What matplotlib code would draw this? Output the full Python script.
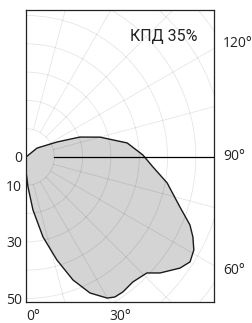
#!/usr/bin/env python3
# -*- coding: utf-8 -*-
"""Light distribution curve (polar, clipped to a box), KPD 35%."""

import numpy as np
import matplotlib
matplotlib.use("Agg")
import matplotlib.pyplot as plt
from matplotlib.patches import Circle, Polygon

# ---- data: angle from nadir (deg), intensity ----
ANGLES = [0, 3.8, 7.5, 12, 16.7, 20.9, 25.2, 29.9, 32.4, 35.7, 40.6, 46.2, 49.1,
          54.2, 57.4, 61, 64.4, 67.5, 72, 79.6, 85.5, 91, 97.9, 105, 110.3,
          115.8, 129, 140]
INTENS = [5, 10.6, 18.9, 28.9, 38.0, 46.5, 53.1, 57.5, 58.6, 58.7, 58.1, 59.2, 62.6,
          67.1, 68.8, 67.8, 65.4, 62.7, 57.2, 50.7, 45.0, 41.3, 36.1, 27.1, 20.3,
          12.2, 5.0, 0]

R_TICKS = [0, 10, 30, 50]
R_GRID = [10, 20, 30, 40, 50, 60, 70, 80, 90]
A_GRID = list(range(0, 181, 15))
A_LABELS = {0: "bottom", 30: "bottom", 60: "right", 90: "right", 120: "right", 150: "top"}
TITLE = "КПД 35%"

W, H = 253, 323
PX = 2.83  # pixels per intensity unit
BOX = (26, 10, 214, 302)  # left, top, right, bottom in pixels
ORIGIN_Y = 157

FONT = ["Open Sans", "DejaVu Sans"]


def polar_xy(a_deg, r):
    a = np.radians(np.asarray(a_deg, dtype=float))
    r = np.asarray(r, dtype=float)
    return r * np.sin(a), -r * np.cos(a)


def main():
    fig = plt.figure(figsize=(W / 100, H / 100), dpi=100)
    l, t, rgt, b = BOX
    ax = fig.add_axes([l / W, 1 - b / H, (rgt - l) / W, (b - t) / H])
    xmax = (rgt - l) / PX
    ymax = (ORIGIN_Y - t) / PX
    ymin = -(b - ORIGIN_Y) / PX
    ax.set_xlim(0, xmax)
    ax.set_ylim(ymin, ymax)

    # curve
    x, y = polar_xy(ANGLES, INTENS)
    ax.add_patch(Polygon(np.column_stack([x, y]), closed=True, facecolor="#d4d4d4",
                         edgecolor="#1a1a1a", lw=1.0, joinstyle="round", zorder=2))

    # grid on top (semi-transparent so it darkens inside the fill)
    for r in R_GRID:
        ax.add_patch(Circle((0, 0), r, fill=False, edgecolor="k", alpha=0.1,
                            lw=0.6, zorder=3))
    for a in A_GRID:
        gx, gy = polar_xy([a, a], [R_GRID[0], 120])
        ax.plot(gx, gy, color="k", alpha=0.1, lw=0.6, zorder=3)

    # 90 degree reference line
    hx, hy = polar_xy([90, 90], [R_GRID[0], 120])
    ax.plot(hx, hy, color="k", lw=0.9, zorder=4)

    # radial tick labels down the 0 deg axis
    ax.set_xticks([])
    ax.set_yticks([-r for r in R_TICKS])
    ax.set_yticklabels([str(r) for r in R_TICKS], family=FONT, fontsize=10, color="#222222")
    ax.tick_params(axis="y", length=0, pad=3)
    for s in ax.spines.values():
        s.set_linewidth(0.9)
        s.set_color("#222222")

    # angle labels where rays leave the box
    off = 9 / PX
    for a, side in A_LABELS.items():
        ar = np.radians(a)
        if side == "right":
            xl = xmax + off
            yl = -xl * np.cos(ar) / np.sin(ar)
            ax.text(xl, yl, f"{a}°", ha="left", va="center", family=FONT, fontsize=10,
                    color="#222222", clip_on=False)
        elif side == "bottom":
            xl = -ymin * np.tan(ar)
            ax.text(xl, ymin - 7 / PX, f"{a}°", ha="left", va="top", family=FONT,
                    fontsize=10, color="#222222", clip_on=False)
        else:
            xl = ymax * np.tan(np.pi - ar)
            ax.text(xl, ymax + 7 / PX, f"{a}°", ha="left", va="bottom", family=FONT,
                    fontsize=10, color="#222222", clip_on=False)

    ax.text((164 - l) / PX, (ORIGIN_Y - 36.5) / PX, TITLE, ha="center", va="center",
            family=["Roboto", "DejaVu Sans"], fontsize=11.5,
            color="#222222", zorder=5)

    fig.savefig("out.png", dpi=100)


if __name__ == "__main__":
    main()
